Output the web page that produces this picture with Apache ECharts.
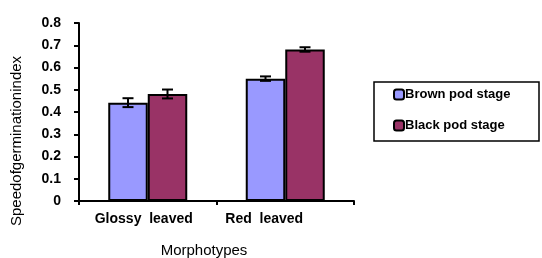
<!DOCTYPE html>
<html>
<head>
<meta charset="utf-8">
<script src="https://cdn.jsdelivr.net/npm/echarts@6/dist/echarts.min.js"></script>
<style>
  html, body { margin: 0; padding: 0; background: #fff; }
  #chart { width: 542px; height: 258px; }
</style>
</head>
<body>
<div id="chart"></div>
<script>
const categories = ["Glossy  leaved", "Red  leaved"];
const brownPod = [0.442, 0.55];
const blackPod = [0.481, 0.681];
const brownErr = [0.02, 0.01];
const blackErr = [0.02, 0.01];
const yTicks = [0, 0.1, 0.2, 0.3, 0.4, 0.5, 0.6, 0.7, 0.8];

const chart = echarts.init(document.getElementById("chart"));

const BAR_W = 39.5;
const FONT = "Liberation Sans";

// error bar drawn as custom series, shifted to sit on its bar
function errorSeries(values, errs, shift) {
  return {
    type: "custom",
    z: 5,
    data: values.map((v, i) => [i, v - errs[i], v + errs[i]]),
    renderItem: function (params, api) {
      const lo = api.coord([api.value(0), api.value(1)]);
      const hi = api.coord([api.value(0), api.value(2)]);
      const x = lo[0] + shift * BAR_W;
      const half = 5.5;
      const style = { stroke: "#000", lineWidth: 2 };
      return {
        type: "group",
        children: [
          { type: "line", shape: { x1: x, y1: hi[1], x2: x, y2: lo[1] }, style: style },
          { type: "line", shape: { x1: x - half, y1: hi[1], x2: x + half, y2: hi[1] }, style: style },
          { type: "line", shape: { x1: x - half, y1: lo[1], x2: x + half, y2: lo[1] }, style: style },
        ],
      };
    },
  };
}

const option = {
  animation: false,
  grid: { left: 79, right: 188, top: 23, bottom: 57, containLabel: false, outerBoundsMode: "none" },
  legend: {
    orient: "vertical",
    left: 388,
    top: 83,
    itemWidth: 10,
    itemHeight: 10,
    itemGap: 18,
    data: ["Brown pod stage", "Black pod stage"],
    textStyle: { fontFamily: FONT, fontWeight: "bold", fontSize: 13, color: "#000", padding: [0, 0, 0, -4] },
  },
  graphic: [
    {
      type: "rect",
      shape: { x: 374, y: 82, width: 165, height: 59 },
      style: { fill: "none", stroke: "#000", lineWidth: 1.5 },
      z: 10,
    },
    {
      type: "text",
      x: 17,
      y: 141,
      rotation: Math.PI / 2,
      style: {
        text: "Speedofgerminationindex",
        font: "15px " + FONT,
        fill: "#000",
        align: "center",
        verticalAlign: "middle",
      },
    },
    {
      type: "text",
      x: 204,
      y: 251,
      style: {
        text: "Morphotypes",
        font: "15px " + FONT,
        fill: "#000",
        align: "center",
        verticalAlign: "middle",
      },
    },
  ],
  xAxis: {
    type: "category",
    data: categories,
    axisLine: { lineStyle: { color: "#000", width: 2 } },
    axisTick: { show: true, length: 4, lineStyle: { color: "#000", width: 2 } },
    axisLabel: {
      margin: 11,
      formatter: (v, i) => "{c" + i + "|" + v + "}",
      rich: {
        c0: { fontFamily: FONT, fontWeight: "bold", fontSize: 14, color: "#000", padding: [0, 8, 0, 0] },
        c1: { fontFamily: FONT, fontWeight: "bold", fontSize: 14, color: "#000", padding: [0, 42, 0, 0] },
      },
    },
  },
  yAxis: {
    type: "value",
    min: 0,
    max: 0.8,
    interval: 0.1,
    splitLine: { show: false },
    axisLine: { show: true, lineStyle: { color: "#000", width: 2 } },
    axisTick: { show: true, length: 5, lineStyle: { color: "#000", width: 2 } },
    axisLabel: {
      fontFamily: FONT,
      fontWeight: "bold",
      fontSize: 14,
      color: "#000",
      margin: 18,
      formatter: (v) => {
        const t = yTicks.find((k) => Math.abs(k - v) < 1e-9);
        return t === 0 ? "0" : String(t);
      },
    },
  },
  series: [
    {
      name: "Brown pod stage",
      type: "bar",
      data: brownPod,
      barWidth: BAR_W,
      barGap: "0%",
      itemStyle: { color: "#9999FF", borderColor: "#000", borderWidth: 2 },
    },
    {
      name: "Black pod stage",
      type: "bar",
      data: blackPod,
      barWidth: BAR_W,
      barGap: "0%",
      itemStyle: { color: "#993366", borderColor: "#000", borderWidth: 2 },
    },
    errorSeries(brownPod, brownErr, -0.5),
    errorSeries(blackPod, blackErr, 0.5),
  ],
};

chart.setOption(option);
</script>
</body>
</html>
